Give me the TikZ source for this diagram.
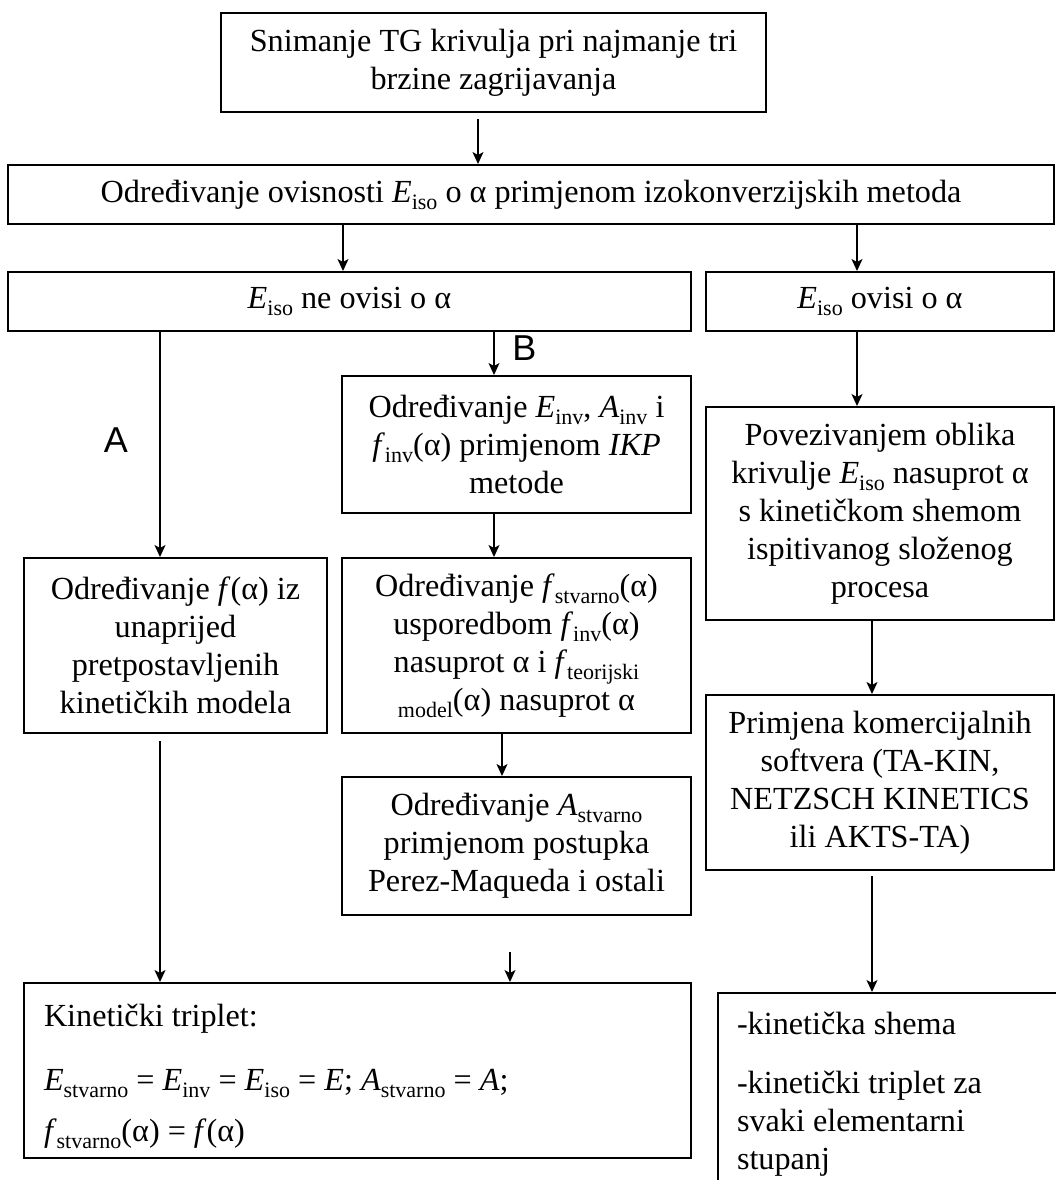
\documentclass[tikz,border=0pt]{standalone}
\usepackage{fontspec}
\setmainfont{Liberation Serif}
\newfontfamily\labelfont{Liberation Sans}
\usetikzlibrary{arrows.meta}
\newcommand{\sub}[1]{\raisebox{-3.5pt}{\fontsize{11pt}{11pt}\selectfont #1}}
\newcommand{\Ev}[1]{\textit{E}\sub{#1}}
\newcommand{\Av}[1]{\textit{A}\sub{#1}}
\newcommand{\fv}[1]{\textit{f}\sub{#1}}
\begin{document}
\begin{tikzpicture}[x=0.5pt,y=-0.5pt,
  box/.style={draw=black, line width=1pt, align=center, inner sep=0pt,
    font=\fontsize{16.1pt}{19pt}\selectfont},
  arr/.style={line width=0.7pt, -{Stealth[length=6pt,width=5.5pt,inset=1.5pt]}},
  lab/.style={font=\labelfont\fontsize{18pt}{20pt}\selectfont}]
\clip (0,0) rectangle (1056,1180);
% boxes
\node [box, minimum width=272.5pt, minimum height=49.5pt] (snim) at (493.5,62.5) {Snimanje TG krivulja pri najmanje tri\\brzine zagrijavanja};
\node [box, minimum width=523pt, minimum height=29.5pt] (izo) at (531,194.5) {Određivanje ovisnosti \Ev{iso} o α primjenom izokonverzijskih metoda};
\node [box, minimum width=341.5pt, minimum height=29.5pt] (neovisi) at (349.5,301.5) {\Ev{iso} ne ovisi o α};
\node [box, minimum width=174pt, minimum height=29.5pt] (ovisi) at (880,301.5) {\Ev{iso} ovisi o α};
\node [box, minimum width=174.5pt, minimum height=68.5pt] (inv) at (516.5,444.5) {Određivanje \Ev{inv}, \Av{inv} i\\\fv{inv}(α) primjenom \textit{IKP}\\metode};
\node [box, minimum width=174pt, minimum height=106.5pt] (pov) at (880,513.5) {Povezivanjem oblika\\krivulje \Ev{iso} nasuprot α\\s kinetičkom shemom\\ispitivanog složenog\\procesa};
\node [box, minimum width=151.5pt, minimum height=87.5pt] (fa) at (175.5,645.5) {Određivanje \textit{f}(α) iz\\unaprijed\\pretpostavljenih\\kinetičkih modela};
\node [box, minimum width=174.5pt, minimum height=87.5pt] (stv) at (516.5,645.5) {Određivanje \fv{stvarno}(α)\\usporedbom \fv{inv}(α)\\nasuprot α i \fv{teorijski}\\\sub{model}(α) nasuprot α};
\node [box, minimum width=174.5pt, minimum height=69pt] (ast) at (516.5,846) {Određivanje \Av{stvarno}\\primjenom postupka\\Perez-Maqueda i ostali};
\node [box, minimum width=174pt, minimum height=87.5pt] (prim) at (880,782.5) {Primjena komercijalnih\\softvera (TA-KIN,\\NETZSCH KINETICS\\ili AKTS-TA)};
\node [box, align=flush left, text width=313.5pt, inner xsep=10pt, minimum height=87.5pt] (trip) at (357.5,1070.5) {\rule{0pt}{17pt}Kinetički triplet:\\[13pt]\Ev{stvarno} = \Ev{inv} = \Ev{iso} = \textit{E}; \Av{stvarno} = \textit{A};\\[6.5pt]\fv{stvarno}(α) = \textit{f}(α)};
\node [box, align=flush left, text width=162pt, inner xsep=9.5pt, minimum height=101.5pt] (shema) at (899,1094.5) {-kinetička shema\\[10.5pt]-kinetički triplet za\\svaki elementarni\\stupanj};
% labels
\node [lab] (labB) at (524.5,348.5) {B};
\node [lab] (labA) at (116,440) {A};
% connectors
\coordinate (ostali) at (510,952);
\draw [arr, shorten <=3pt] (snim.south -| 478,0) -- (izo.north -| 478,0);
\draw [arr] (izo.south -| 343,0) -- (neovisi.north -| 343,0);
\draw [arr] (izo.south -| 857,0) -- (ovisi.north -| 857,0);
\draw [arr] (neovisi.south -| 160,0) -- (fa.north -| 160,0);
\draw [arr] (neovisi.south -| 494,0) -- (inv.north -| 494,0);
\draw [arr] (ovisi.south -| 857,0) -- (pov.north -| 857,0);
\draw [arr] (inv.south -| 494,0) -- (stv.north -| 494,0);
\draw [arr] (stv.south -| 502,0) -- (ast.north -| 502,0);
\draw [arr] (pov.south -| 872,0) -- (prim.north -| 872,0);
\draw [arr, shorten <=3.5pt] (fa.south -| 160,0) -- (trip.north -| 160,0);
\draw [arr] (ostali) -- (trip.north -| ostali);
\draw [arr, shorten <=2.5pt] (prim.south -| 872,0) -- (shema.north -| 872,0);
\end{tikzpicture}
\end{document}
